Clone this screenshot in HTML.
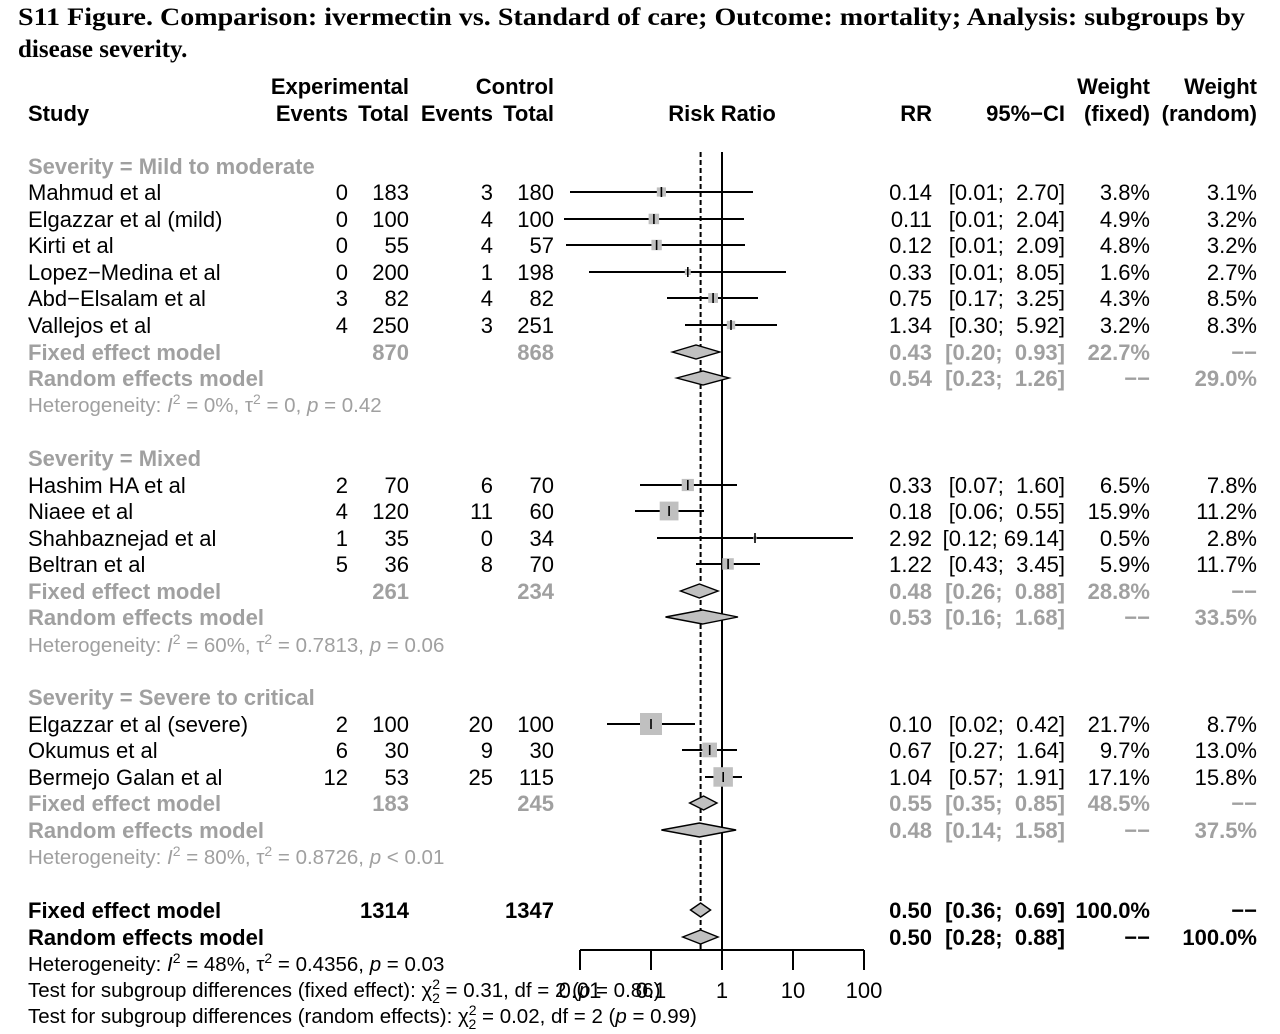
<!DOCTYPE html>
<html><head><meta charset="utf-8"><style>
html,body{margin:0;padding:0;background:#fff;}
svg{display:block;}
text{font-family:"Liberation Sans",Arial,sans-serif;font-size:22px;fill:#000;white-space:pre;}
.t{font-family:"Liberation Serif",serif;font-weight:bold;font-size:25px;}
.b{font-weight:bold;}
.g{fill:#a0a0a0;}
.gb{fill:#a0a0a0;font-weight:bold;}
.s{font-size:20.5px;}
</style></head><body>
<svg width="1280" height="1034" viewBox="0 0 1280 1034">
<text class="t" x="18" y="25" textLength="1227" lengthAdjust="spacingAndGlyphs">S11 Figure. Comparison: ivermectin vs. Standard of care; Outcome: mortality; Analysis: subgroups by</text>
<text class="t" x="18" y="57">disease severity.</text>

<g class="b">
<text class="b" x="28" y="121">Study</text>
<text class="b" x="409" y="94" text-anchor="end">Experimental</text>
<text class="b" x="554" y="94" text-anchor="end">Control</text>
<text class="b" x="348" y="121" text-anchor="end">Events</text>
<text class="b" x="409" y="121" text-anchor="end">Total</text>
<text class="b" x="493" y="121" text-anchor="end">Events</text>
<text class="b" x="554" y="121" text-anchor="end">Total</text>
<text class="b" x="722" y="121" text-anchor="middle">Risk Ratio</text>
<text class="b" x="932" y="121" text-anchor="end">RR</text>
<text class="b" x="1065" y="121" text-anchor="end">95%−CI</text>
<text class="b" x="1150" y="94" text-anchor="end">Weight</text>
<text class="b" x="1150" y="121" text-anchor="end">(fixed)</text>
<text class="b" x="1257" y="94" text-anchor="end">Weight</text>
<text class="b" x="1257" y="121" text-anchor="end">(random)</text>
</g>

<line x1="722" y1="152" x2="722" y2="950" stroke="#000" stroke-width="2"/>
<line x1="700.6" y1="152" x2="700.6" y2="950" stroke="#000" stroke-width="2" stroke-dasharray="5,3"/>
<line x1="580" y1="950" x2="864" y2="950" stroke="#000" stroke-width="2"/>
<g stroke="#000" stroke-width="2">
<line x1="580" y1="950" x2="580" y2="970"/><line x1="651" y1="950" x2="651" y2="970"/><line x1="722" y1="950" x2="722" y2="970"/><line x1="793" y1="950" x2="793" y2="970"/><line x1="864" y1="950" x2="864" y2="970"/>
</g>
<text x="580" y="998" text-anchor="middle">0.01</text>
<text x="651" y="998" text-anchor="middle">0.1</text>
<text x="722" y="998" text-anchor="middle">1</text>
<text x="793" y="998" text-anchor="middle">10</text>
<text x="864" y="998" text-anchor="middle">100</text>

<g stroke="#000" stroke-width="2">
<line x1="570" y1="192" x2="753" y2="192"/>
<line x1="564" y1="219" x2="744" y2="219"/>
<line x1="566" y1="245" x2="745" y2="245"/>
<line x1="589" y1="272" x2="786" y2="272"/>
<line x1="667" y1="298" x2="758" y2="298"/>
<line x1="685" y1="325" x2="777" y2="325"/>
<line x1="640" y1="485" x2="737" y2="485"/>
<line x1="635" y1="511" x2="704" y2="511"/>
<line x1="657" y1="538" x2="853" y2="538"/>
<line x1="696" y1="564" x2="760" y2="564"/>
<line x1="607" y1="724" x2="695" y2="724"/>
<line x1="682" y1="750" x2="737" y2="750"/>
<line x1="705" y1="777" x2="742" y2="777"/>
</g>
<g fill="#c0c0c0">
<rect x="656.8" y="187.4" width="9.2" height="9.2"/>
<rect x="648.6" y="213.7" width="10.5" height="10.5"/>
<rect x="651.4" y="239.8" width="10.4" height="10.4"/>
<rect x="684.8" y="269" width="6" height="6"/>
<rect x="708.2" y="293.1" width="9.8" height="9.8"/>
<rect x="726.8" y="320.8" width="8.4" height="8.4"/>
<rect x="681.7" y="478.9" width="12.2" height="12.2"/>
<rect x="659.7" y="501.6" width="18.8" height="18.8"/>
<rect x="753.3" y="536.3" width="3.3" height="3.3"/>
<rect x="722.3" y="558.2" width="11.5" height="11.5"/>
<rect x="640" y="713" width="22" height="22"/>
<rect x="702.3" y="742.6" width="14.7" height="14.7"/>
<rect x="713.4" y="767.2" width="19.5" height="19.5"/>
</g>
<g stroke="#000" stroke-width="1.6">
<line x1="661.4" y1="187" x2="661.4" y2="197"/><line x1="653.9" y1="214" x2="653.9" y2="224"/><line x1="656.6" y1="240" x2="656.6" y2="250"/><line x1="687.8" y1="267" x2="687.8" y2="277"/><line x1="713.1" y1="293" x2="713.1" y2="303"/><line x1="731" y1="320" x2="731" y2="330"/>
<line x1="687.8" y1="480" x2="687.8" y2="490"/><line x1="669.1" y1="506" x2="669.1" y2="516"/><line x1="755" y1="533" x2="755" y2="543"/><line x1="728.1" y1="559" x2="728.1" y2="569"/>
<line x1="651" y1="719" x2="651" y2="729"/><line x1="709.7" y1="745" x2="709.7" y2="755"/><line x1="723.2" y1="772" x2="723.2" y2="782"/>
</g>
<g fill="#c0c0c0" stroke="#000" stroke-width="1.4">
<polygon points="672.4,352 696,345 719.8,352 696,359"/>
<polygon points="676.7,378 703,371 729.1,378 703,385"/>
<polygon points="680.5,591 699.4,584 718.1,591 699.4,598"/>
<polygon points="665.5,617 702.4,610 738,617 702.4,624"/>
<polygon points="689.6,803 703.6,796 717,803 703.6,810"/>
<polygon points="661.4,830 699.4,823 736.1,830 699.4,837"/>
<polygon points="690.5,910 700.6,903 710.6,910 700.6,917"/>
<polygon points="682.7,937 700.6,930 718.1,937 700.6,944"/>
</g>

<text class="gb" x="28" y="174">Severity = Mild to moderate</text>
<text x="28" y="200">Mahmud et al</text><text x="348" y="200" text-anchor="end">0</text><text x="409" y="200" text-anchor="end">183</text><text x="493" y="200" text-anchor="end">3</text><text x="554" y="200" text-anchor="end">180</text><text x="932" y="200" text-anchor="end">0.14</text><text x="1065" y="200" text-anchor="end">[0.01;&#160; 2.70]</text><text x="1150" y="200" text-anchor="end">3.8%</text><text x="1257" y="200" text-anchor="end">3.1%</text>
<text x="28" y="227">Elgazzar et al (mild)</text><text x="348" y="227" text-anchor="end">0</text><text x="409" y="227" text-anchor="end">100</text><text x="493" y="227" text-anchor="end">4</text><text x="554" y="227" text-anchor="end">100</text><text x="932" y="227" text-anchor="end">0.11</text><text x="1065" y="227" text-anchor="end">[0.01;&#160; 2.04]</text><text x="1150" y="227" text-anchor="end">4.9%</text><text x="1257" y="227" text-anchor="end">3.2%</text>
<text x="28" y="253">Kirti et al</text><text x="348" y="253" text-anchor="end">0</text><text x="409" y="253" text-anchor="end">55</text><text x="493" y="253" text-anchor="end">4</text><text x="554" y="253" text-anchor="end">57</text><text x="932" y="253" text-anchor="end">0.12</text><text x="1065" y="253" text-anchor="end">[0.01;&#160; 2.09]</text><text x="1150" y="253" text-anchor="end">4.8%</text><text x="1257" y="253" text-anchor="end">3.2%</text>
<text x="28" y="280">Lopez−Medina et al</text><text x="348" y="280" text-anchor="end">0</text><text x="409" y="280" text-anchor="end">200</text><text x="493" y="280" text-anchor="end">1</text><text x="554" y="280" text-anchor="end">198</text><text x="932" y="280" text-anchor="end">0.33</text><text x="1065" y="280" text-anchor="end">[0.01;&#160; 8.05]</text><text x="1150" y="280" text-anchor="end">1.6%</text><text x="1257" y="280" text-anchor="end">2.7%</text>
<text x="28" y="306">Abd−Elsalam et al</text><text x="348" y="306" text-anchor="end">3</text><text x="409" y="306" text-anchor="end">82</text><text x="493" y="306" text-anchor="end">4</text><text x="554" y="306" text-anchor="end">82</text><text x="932" y="306" text-anchor="end">0.75</text><text x="1065" y="306" text-anchor="end">[0.17;&#160; 3.25]</text><text x="1150" y="306" text-anchor="end">4.3%</text><text x="1257" y="306" text-anchor="end">8.5%</text>
<text x="28" y="333">Vallejos et al</text><text x="348" y="333" text-anchor="end">4</text><text x="409" y="333" text-anchor="end">250</text><text x="493" y="333" text-anchor="end">3</text><text x="554" y="333" text-anchor="end">251</text><text x="932" y="333" text-anchor="end">1.34</text><text x="1065" y="333" text-anchor="end">[0.30;&#160; 5.92]</text><text x="1150" y="333" text-anchor="end">3.2%</text><text x="1257" y="333" text-anchor="end">8.3%</text>
<text class="gb" x="28" y="360">Fixed effect model</text><text class="gb" x="409" y="360" text-anchor="end">870</text><text class="gb" x="554" y="360" text-anchor="end">868</text><text class="gb" x="932" y="360" text-anchor="end">0.43</text><text class="gb" x="1065" y="360" text-anchor="end">[0.20;&#160; 0.93]</text><text class="gb" x="1150" y="360" text-anchor="end">22.7%</text><text class="gb" x="1257" y="360" text-anchor="end">−−</text>
<text class="gb" x="28" y="386">Random effects model</text><text class="gb" x="932" y="386" text-anchor="end">0.54</text><text class="gb" x="1065" y="386" text-anchor="end">[0.23;&#160; 1.26]</text><text class="gb" x="1150" y="386" text-anchor="end">−−</text><text class="gb" x="1257" y="386" text-anchor="end">29.0%</text>
<text class="g s" x="28" y="412">Heterogeneity: <tspan font-style="italic">I</tspan><tspan dy="-8" font-size="14">2</tspan><tspan dy="8"> = 0%, τ</tspan><tspan dy="-8" font-size="14">2</tspan><tspan dy="8"> = 0, </tspan><tspan font-style="italic">p</tspan> = 0.42</text>

<text class="gb" x="28" y="466">Severity = Mixed</text>
<text x="28" y="493">Hashim HA et al</text><text x="348" y="493" text-anchor="end">2</text><text x="409" y="493" text-anchor="end">70</text><text x="493" y="493" text-anchor="end">6</text><text x="554" y="493" text-anchor="end">70</text><text x="932" y="493" text-anchor="end">0.33</text><text x="1065" y="493" text-anchor="end">[0.07;&#160; 1.60]</text><text x="1150" y="493" text-anchor="end">6.5%</text><text x="1257" y="493" text-anchor="end">7.8%</text>
<text x="28" y="519">Niaee et al</text><text x="348" y="519" text-anchor="end">4</text><text x="409" y="519" text-anchor="end">120</text><text x="493" y="519" text-anchor="end">11</text><text x="554" y="519" text-anchor="end">60</text><text x="932" y="519" text-anchor="end">0.18</text><text x="1065" y="519" text-anchor="end">[0.06;&#160; 0.55]</text><text x="1150" y="519" text-anchor="end">15.9%</text><text x="1257" y="519" text-anchor="end">11.2%</text>
<text x="28" y="546">Shahbaznejad et al</text><text x="348" y="546" text-anchor="end">1</text><text x="409" y="546" text-anchor="end">35</text><text x="493" y="546" text-anchor="end">0</text><text x="554" y="546" text-anchor="end">34</text><text x="932" y="546" text-anchor="end">2.92</text><text x="1065" y="546" text-anchor="end">[0.12; 69.14]</text><text x="1150" y="546" text-anchor="end">0.5%</text><text x="1257" y="546" text-anchor="end">2.8%</text>
<text x="28" y="572">Beltran et al</text><text x="348" y="572" text-anchor="end">5</text><text x="409" y="572" text-anchor="end">36</text><text x="493" y="572" text-anchor="end">8</text><text x="554" y="572" text-anchor="end">70</text><text x="932" y="572" text-anchor="end">1.22</text><text x="1065" y="572" text-anchor="end">[0.43;&#160; 3.45]</text><text x="1150" y="572" text-anchor="end">5.9%</text><text x="1257" y="572" text-anchor="end">11.7%</text>
<text class="gb" x="28" y="599">Fixed effect model</text><text class="gb" x="409" y="599" text-anchor="end">261</text><text class="gb" x="554" y="599" text-anchor="end">234</text><text class="gb" x="932" y="599" text-anchor="end">0.48</text><text class="gb" x="1065" y="599" text-anchor="end">[0.26;&#160; 0.88]</text><text class="gb" x="1150" y="599" text-anchor="end">28.8%</text><text class="gb" x="1257" y="599" text-anchor="end">−−</text>
<text class="gb" x="28" y="625">Random effects model</text><text class="gb" x="932" y="625" text-anchor="end">0.53</text><text class="gb" x="1065" y="625" text-anchor="end">[0.16;&#160; 1.68]</text><text class="gb" x="1150" y="625" text-anchor="end">−−</text><text class="gb" x="1257" y="625" text-anchor="end">33.5%</text>
<text class="g s" x="28" y="652">Heterogeneity: <tspan font-style="italic">I</tspan><tspan dy="-8" font-size="14">2</tspan><tspan dy="8"> = 60%, τ</tspan><tspan dy="-8" font-size="14">2</tspan><tspan dy="8"> = 0.7813, </tspan><tspan font-style="italic">p</tspan> = 0.06</text>

<text class="gb" x="28" y="705">Severity = Severe to critical</text>
<text x="28" y="732">Elgazzar et al (severe)</text><text x="348" y="732" text-anchor="end">2</text><text x="409" y="732" text-anchor="end">100</text><text x="493" y="732" text-anchor="end">20</text><text x="554" y="732" text-anchor="end">100</text><text x="932" y="732" text-anchor="end">0.10</text><text x="1065" y="732" text-anchor="end">[0.02;&#160; 0.42]</text><text x="1150" y="732" text-anchor="end">21.7%</text><text x="1257" y="732" text-anchor="end">8.7%</text>
<text x="28" y="758">Okumus et al</text><text x="348" y="758" text-anchor="end">6</text><text x="409" y="758" text-anchor="end">30</text><text x="493" y="758" text-anchor="end">9</text><text x="554" y="758" text-anchor="end">30</text><text x="932" y="758" text-anchor="end">0.67</text><text x="1065" y="758" text-anchor="end">[0.27;&#160; 1.64]</text><text x="1150" y="758" text-anchor="end">9.7%</text><text x="1257" y="758" text-anchor="end">13.0%</text>
<text x="28" y="785">Bermejo Galan et al</text><text x="348" y="785" text-anchor="end">12</text><text x="409" y="785" text-anchor="end">53</text><text x="493" y="785" text-anchor="end">25</text><text x="554" y="785" text-anchor="end">115</text><text x="932" y="785" text-anchor="end">1.04</text><text x="1065" y="785" text-anchor="end">[0.57;&#160; 1.91]</text><text x="1150" y="785" text-anchor="end">17.1%</text><text x="1257" y="785" text-anchor="end">15.8%</text>
<text class="gb" x="28" y="811">Fixed effect model</text><text class="gb" x="409" y="811" text-anchor="end">183</text><text class="gb" x="554" y="811" text-anchor="end">245</text><text class="gb" x="932" y="811" text-anchor="end">0.55</text><text class="gb" x="1065" y="811" text-anchor="end">[0.35;&#160; 0.85]</text><text class="gb" x="1150" y="811" text-anchor="end">48.5%</text><text class="gb" x="1257" y="811" text-anchor="end">−−</text>
<text class="gb" x="28" y="838">Random effects model</text><text class="gb" x="932" y="838" text-anchor="end">0.48</text><text class="gb" x="1065" y="838" text-anchor="end">[0.14;&#160; 1.58]</text><text class="gb" x="1150" y="838" text-anchor="end">−−</text><text class="gb" x="1257" y="838" text-anchor="end">37.5%</text>
<text class="g s" x="28" y="864">Heterogeneity: <tspan font-style="italic">I</tspan><tspan dy="-8" font-size="14">2</tspan><tspan dy="8"> = 80%, τ</tspan><tspan dy="-8" font-size="14">2</tspan><tspan dy="8"> = 0.8726, </tspan><tspan font-style="italic">p</tspan> &lt; 0.01</text>

<text class="b" x="28" y="918">Fixed effect model</text><text class="b" x="409" y="918" text-anchor="end">1314</text><text class="b" x="554" y="918" text-anchor="end">1347</text><text class="b" x="932" y="918" text-anchor="end">0.50</text><text class="b" x="1065" y="918" text-anchor="end">[0.36;&#160; 0.69]</text><text class="b" x="1150" y="918" text-anchor="end">100.0%</text><text class="b" x="1257" y="918" text-anchor="end">−−</text>
<text class="b" x="28" y="945">Random effects model</text><text class="b" x="932" y="945" text-anchor="end">0.50</text><text class="b" x="1065" y="945" text-anchor="end">[0.28;&#160; 0.88]</text><text class="b" x="1150" y="945" text-anchor="end">−−</text><text class="b" x="1257" y="945" text-anchor="end">100.0%</text>
<text class="s" x="28" y="971">Heterogeneity: <tspan font-style="italic">I</tspan><tspan dy="-8" font-size="14">2</tspan><tspan dy="8"> = 48%, τ</tspan><tspan dy="-8" font-size="14">2</tspan><tspan dy="8"> = 0.4356, </tspan><tspan font-style="italic">p</tspan> = 0.03</text>
<text class="s" x="28" y="997">Test for subgroup differences (fixed effect): χ<tspan dy="-8" font-size="14">2</tspan><tspan dx="-8" dy="14" font-size="14">2</tspan><tspan dy="-6"> = 0.31, df = 2 (</tspan><tspan font-style="italic">p</tspan> = 0.86)</text>
<text class="s" x="28" y="1023">Test for subgroup differences (random effects): χ<tspan dy="-8" font-size="14">2</tspan><tspan dx="-8" dy="14" font-size="14">2</tspan><tspan dy="-6"> = 0.02, df = 2 (</tspan><tspan font-style="italic">p</tspan> = 0.99)</text>
</svg>
</body></html>
